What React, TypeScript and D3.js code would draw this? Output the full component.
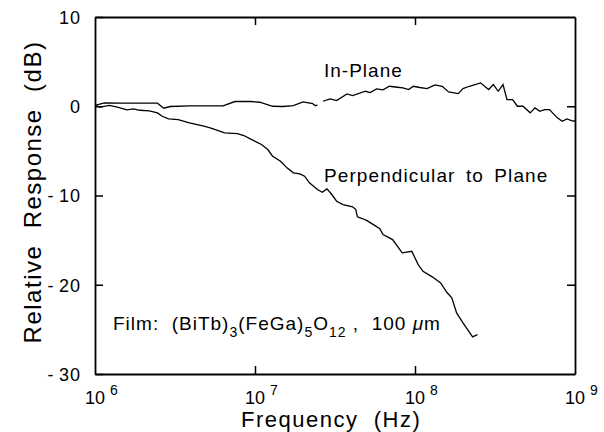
import React, { useEffect, useRef } from "react";
import * as d3 from "d3";

// frequency as decade exponent (10^x Hz), response in dB
const inPlaneExp = [6.0, 6.06, 6.16, 6.28, 6.39, 6.43, 6.47, 6.59, 6.8, 6.875, 6.97, 7.03, 7.11, 7.175, 7.24, 7.3, 7.36, 7.375, 7.39, 7.41,
  7.425, 7.47, 7.51, 7.575, 7.61, 7.69, 7.72, 7.76, 7.8, 7.84, 7.89, 7.925, 7.96, 7.99, 8.03, 8.075, 8.125, 8.17, 8.21, 8.27,
  8.3, 8.34, 8.41, 8.46, 8.49, 8.52, 8.55, 8.575, 8.61, 8.64, 8.675, 8.72, 8.75, 8.78, 8.81, 8.84, 8.89, 8.92, 8.95, 8.99, 9.0];
const inPlaneDb = [0.1, 0.38, 0.34, 0.34, 0.34, -0.22, -0.03, 0.04, 0.04, 0.53, 0.53, 0.45, 0.0, -0.03, 0.08, 0.49, 0.3, 0.08, 0.11, null,
  0.56, 0.83, 0.64, 1.39, 1.2, 1.68, 1.54, 1.95, 1.84, 2.24, 2.13, 2.06, 1.87, 2.24, 2.1, 1.98, 2.4, 2.24, 1.61, 1.42,
  1.98, 2.24, 2.62, 1.87, 2.43, 1.68, 2.43, 0.75, 0.75, 0.0, 0.0, -0.74, -0.18, -0.56, -0.37, -0.37, -1.3, -1.68, -1.41, -1.68, -1.57];

const perpExp = [6.0, 6.03, 6.09, 6.14, 6.2, 6.24, 6.28, 6.34, 6.39, 6.42, 6.46, 6.52, 6.59, 6.68, 6.72, 6.77, 6.81, 6.89, 6.93, 6.97,
  7.04, 7.08, 7.11, 7.16, 7.2, 7.24, 7.28, 7.31, 7.34, 7.39, 7.42, 7.45, 7.48, 7.51, 7.55, 7.61, 7.63, 7.64, 7.67, 7.7,
  7.73, 7.78, 7.8, 7.86, 7.92, 7.98, 8.02, 8.05, 8.11, 8.16, 8.2, 8.23, 8.26, 8.3, 8.36, 8.39];
const perpDb = [0.1, -0.1, 0.1, -0.1, -0.4, -0.3, -0.45, -0.52, -0.74, -1.12, -1.41, -1.49, -1.86, -2.24, -2.42, -2.72, -2.98, -3.06, -3.28, -3.65,
  -4.29, -4.85, -5.6, -6.16, -6.9, -7.46, -7.57, -7.84, -8.58, -9.33, -9.64, -9.26, -9.89, -10.64, -11.01, -11.27, -11.57, -12.39, -12.58, -12.81,
  -13.15, -13.71, -14.38, -14.94, -16.43, -16.25, -17.74, -18.49, -19.14, -19.79, -20.87, -21.47, -23.15, -24.27, -25.84, -25.58];

const xTickExps = [6, 7, 8, 9];
const yTicks = [10, 0, -10, -20, -30];

const W = 604;
const H = 432;
const M = { left: 95, right: 29, top: 17, bottom: 58 };
const FONT = "'Liberation Sans', Arial, Helvetica, sans-serif";

export default function App() {
  const ref = useRef<SVGGElement>(null);

  useEffect(() => {
    const g = d3.select(ref.current);
    g.selectAll("*").remove();
    const iw = W - M.left - M.right;
    const ih = H - M.top - M.bottom;
    const x = d3.scaleLog().domain([1e6, 1e9]).range([0, iw]);
    const y = d3.scaleLinear().domain([-30, 10]).range([ih, 0]);

    const styleAxis = (sel: any) => {
      sel.select(".domain").attr("stroke", "#000").attr("stroke-width", 1.8);
      sel.selectAll(".tick line").attr("stroke", "#000").attr("stroke-width", 1.5);
      sel.attr("font-family", FONT).attr("font-size", 18);
    };

    g.append("g")
      .attr("transform", `translate(0,${ih})`)
      .call(d3.axisBottom(x).tickValues([1e7, 1e8]).tickSizeInner(-8).tickSizeOuter(0).tickFormat(() => ""))
      .call(styleAxis);
    g.append("g")
      .call(d3.axisTop(x).tickValues([1e7, 1e8]).tickSizeInner(-8).tickSizeOuter(0).tickFormat(() => ""))
      .call(styleAxis);
    g.append("g")
      .call(
        d3.axisLeft(y).tickValues(yTicks).tickSizeInner(-8).tickSizeOuter(0).tickPadding(14)
          .tickFormat((d: any) => (d < 0 ? `-\u2009${-d}` : `${d}`))
      )
      .call(styleAxis)
      .call((s: any) => s.selectAll(".tick text").attr("fill", "#000").attr("letter-spacing", 1).attr("dy", "0.36em"));
    g.append("g")
      .attr("transform", `translate(${iw},0)`)
      .call(d3.axisRight(y).tickValues([0, -10, -20]).tickSizeInner(-8).tickSizeOuter(0).tickFormat(() => ""))
      .call(styleAxis);

    // x tick labels 10^n
    const xl = g.append("g").attr("font-family", FONT).attr("fill", "#000");
    xTickExps.forEach((e) => {
      const t = xl.append("text").attr("x", x(Math.pow(10, e)) - 10).attr("y", ih + 30).attr("font-size", 18);
      t.append("tspan").text("10");
      t.append("tspan").attr("dx", 5).attr("dy", -9).attr("font-size", 14).text(`${e}`);
    });

    const line = d3.line<[number, number | null]>()
      .defined((d) => d[1] !== null)
      .x((d) => x(Math.pow(10, d[0])))
      .y((d) => y(d[1] as number));

    g.append("path")
      .datum(inPlaneExp.map((e, i) => [e, inPlaneDb[i]] as [number, number | null]))
      .attr("fill", "none").attr("stroke", "#000").attr("stroke-width", 1.3)
      .attr("d", line);
    g.append("path")
      .datum(perpExp.map((e, i) => [e, perpDb[i]] as [number, number | null]))
      .attr("fill", "none").attr("stroke", "#000").attr("stroke-width", 1.3)
      .attr("d", line);
  }, []);

  return (
    <svg width={W} height={H} style={{ position: "absolute", left: 0, top: 0, background: "#fff" }}>
      <g transform={`translate(${M.left},${M.top})`} ref={ref} />
      <g fontFamily={FONT} fill="#000">
        <text x={324} y={77} fontSize={19} letterSpacing={1}>In-Plane</text>
        <text x={324} y={182} fontSize={19} letterSpacing={1.1} wordSpacing={4}>Perpendicular to Plane</text>
        <text x={113} y={330} fontSize={19} letterSpacing={1} style={{ whiteSpace: "pre" }}>
          <tspan>{"Film:  (BiTb)"}</tspan>
          <tspan dy={7} fontSize={14}>3</tspan>
          <tspan dy={-7}>(FeGa)</tspan>
          <tspan dy={7} fontSize={14}>5</tspan>
          <tspan dy={-7}>O</tspan>
          <tspan dy={7} fontSize={14}>12</tspan>
          <tspan dy={-7}>{" ,  100 "}</tspan>
          <tspan fontStyle="italic">μ</tspan>
          <tspan>m</tspan>
        </text>
        <text x={241} y={427} fontSize={22} letterSpacing={1.5} style={{ whiteSpace: "pre" }}>Frequency  (Hz)</text>
        <text transform="translate(41,192) rotate(-90)" textAnchor="middle" fontSize={24} letterSpacing={1.5}
          style={{ whiteSpace: "pre" }}>Relative  Response  (dB)</text>
      </g>
    </svg>
  );
}
